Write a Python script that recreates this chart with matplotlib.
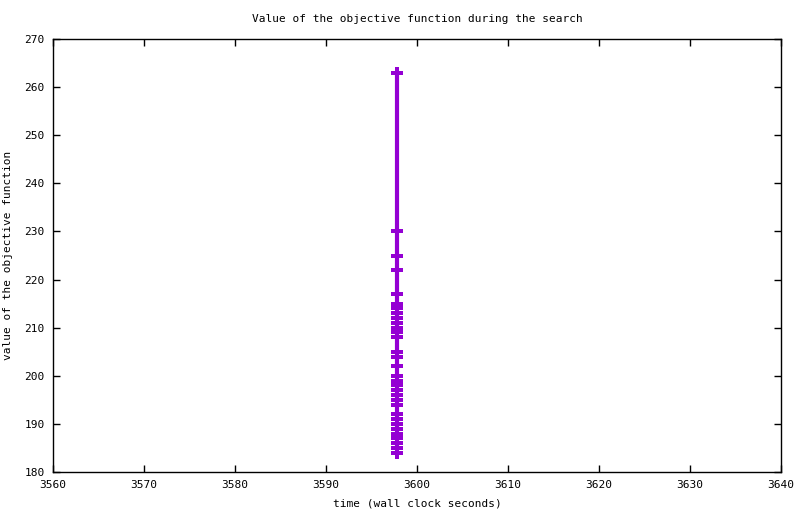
import matplotlib
matplotlib.use("Agg")
import matplotlib.pyplot as plt

# verdien til objektfunksjonen, alle funnet ved omtrent samme tidspunkt
verdier = [263, 230, 225, 222, 217, 215, 214, 213, 212, 211, 210, 209, 208,
           205, 204, 202, 200, 199, 198, 197, 196, 195, 194, 192, 191, 190,
           189, 188, 187, 186, 185, 184]
tider = [3597.8] * len(verdier)

plt.rcParams['font.family'] = ['DejaVu Sans Mono']
plt.rcParams['font.size'] = 8

fig = plt.figure(figsize=(8, 5.14), dpi=100)
ax = fig.add_axes([0.0663, 0.0817, 0.91, 0.8424])

ax.plot(tider, verdier, color="#9400D3", linewidth=3, marker="P",
        markersize=8, markeredgewidth=0)

ax.set_xlim(3560, 3640)
ax.set_ylim(180, 270)
ax.set_xticks(range(3560, 3641, 10))
ax.set_yticks(range(180, 271, 10))
ax.tick_params(direction="in", top=True, right=True, length=5, width=1,
               labelsize=8, pad=6)
for side in ax.spines.values():
    side.set_linewidth(1)

ax.set_title("Value of the objective function during the search", fontsize=8, pad=12)
ax.set_xlabel("time (wall clock seconds)", fontsize=8, labelpad=6)
ax.set_ylabel("value of the objective function", fontsize=8, labelpad=8)

fig.savefig("out.png", dpi=100)
